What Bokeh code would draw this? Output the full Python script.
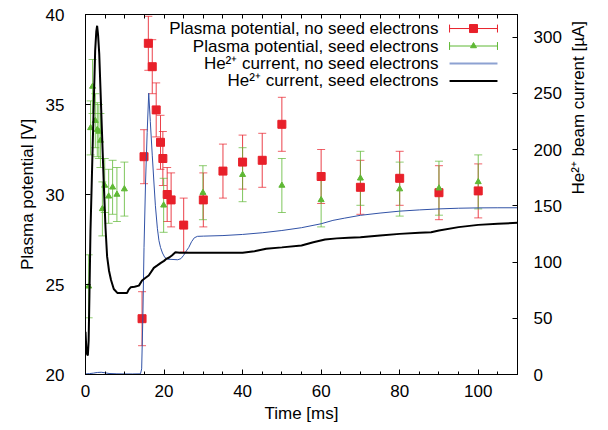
import math
from bokeh.plotting import figure
from bokeh.models import Range1d, LinearAxis, Whisker, TeeHead, ColumnDataSource, FixedTicker
from bokeh.embed import file_html
from bokeh.resources import INLINE
from bokeh.core.properties import value

# ---------------- data ----------------
red_t = [14.4, 14.9, 16.0, 17.0, 18.0, 19.1, 19.7, 20.8, 21.8, 25.0, 30.0, 35.0, 40.0, 45.0, 50.0, 60.0, 70.0, 80.0, 90.0, 100.0]
red_v = [23.1, 32.1, 38.4, 37.1, 34.7, 32.9, 32.0, 30.0, 29.7, 28.3, 29.7, 31.3, 31.8, 31.9, 33.9, 31.0, 30.4, 30.9, 30.1, 30.2]
red_err = [1.5] * 20

green_t = [0.8, 1.3, 1.8, 2.5, 3.0, 3.4, 3.8, 4.3, 4.9, 5.9, 6.9, 8.0, 9.9, 19.9, 29.9, 40.0, 50.0, 60.0, 70.0, 80.0, 90.0, 100.0]
green_v = [24.9, 33.7, 36.0, 34.1, 33.6, 33.5, 33.0, 29.2, 30.5, 29.9, 30.4, 30.0, 30.3, 29.4, 30.1, 31.1, 30.5, 29.7, 30.9, 30.3, 30.35, 30.7]
green_err = [1.75] + [1.5] * 21

blue_t = [0, 1, 2, 3, 4, 5, 6, 8, 10, 12, 14.0, 14.3, 14.6, 14.9, 15.3, 15.7, 16.1, 16.5, 17.0, 17.4, 17.8, 18.3, 18.7,
          19.1, 19.6, 20.2, 21.0, 23.5, 24.3, 25.0, 25.7, 26.3, 27.0, 27.7, 28.5, 30.0, 35.0, 40.0, 45.0, 50.0, 55.0,
          60.0, 63.0, 66.0, 70.0, 75.0, 80.0, 85.0, 90.0, 95.0, 100.0, 105.0, 110.0]
blue_i = [0.5, 0.8, 1.2, 1.8, 2.0, 1.5, 0.9, 0.6, 0.5, 0.5, 0.6, 5, 50, 113, 172, 215, 250, 225, 195, 172, 150, 130, 119,
          113, 108, 104, 102.5, 102, 103, 106, 110, 113, 118, 121.5, 122.8, 123, 123.5, 124.5, 126, 128, 130.5,
          134, 137, 139, 141.5, 143.5, 145.2, 146.3, 147.2, 147.8, 148.1, 148.2, 148.2]

black_t = [0, 0.2, 0.4, 0.6, 0.8, 1.0, 1.27, 1.6, 2.1, 2.46, 2.75, 2.96, 3.2, 3.5, 3.8, 4.2, 4.7, 5.1, 5.5, 6.0, 6.5,
           7.2, 8.1, 9.5, 10.6, 11.0, 11.5, 12.5, 13.6, 14.4, 15.3, 16.1, 17.4, 18.3, 19.1, 20.0, 20.6, 21.3, 22.0,
           22.9, 24.0, 30.0, 40.0, 43.0, 46.0, 50.0, 55.0, 58.0, 61.0, 64.0, 67.0, 70.0, 75.0, 80.0, 85.0, 88.0,
           90.0, 95.0, 100.0, 105.0, 110.0]
black_i = [38, 24, 18, 17, 30, 70, 128, 172, 240, 288, 305, 310, 302, 285, 255, 215, 165, 130, 105, 92, 84,
           76, 72.5, 72.5, 72.5, 75.5, 77.5, 78, 79, 83.6, 86, 88, 94.8, 97, 99, 101, 102.8, 104, 105.8,
           108.7, 108.3, 108.3, 108.3, 109.5, 111.7, 113, 114.7, 117.6, 120, 121, 121.5, 122, 123.5, 125, 126, 126.5,
           128, 131, 133, 134, 134.8]

x_ticks = [0, 20, 40, 60, 80, 100]
x_minor = [0, 5, 10, 15, 20, 25, 30, 35, 40, 45, 50, 55, 60, 65, 70, 75, 80, 85, 90, 95, 100, 105, 110]
y_ticks = [20, 25, 30, 35, 40]
y2_ticks = [0, 50, 100, 150, 200, 250, 300]

legend_labels = ["Plasma potential, no seed electrons", "Plasma potential, seed electrons",
                 "He\u00b2\u207a current, no seed electrons", "He\u00b2\u207a current, seed electrons"]
y2_label = "He\u00b2\u207a beam current [\u00b5A]"

# ---------------- style ----------------
FONT = "Liberation Sans"
FS = "17px"
RED = "#e8202a"
GREEN = "#5fb834"
BLUE = "#3152a6"

p = figure(frame_width=432, frame_height=360, output_backend="svg", toolbar_location=None,
           x_range=Range1d(0, 110), y_range=Range1d(20, 40),
           min_border_left=85, min_border_right=91, min_border_top=14, min_border_bottom=54,
           x_axis_label="Time [ms]", y_axis_label="Plasma potential [V]")
p.extra_y_ranges = {"cur": Range1d(0, 320)}
p.xgrid.visible = False
p.ygrid.visible = False
p.outline_line_color = "black"
p.outline_line_width = 1
p.background_fill_color = "white"
p.border_fill_color = "white"


def style(ax):
    ax.major_tick_in = 5
    ax.major_tick_out = 0
    ax.minor_tick_in = 3
    ax.minor_tick_out = 0
    ax.axis_line_color = "black"
    ax.major_tick_line_color = "black"
    ax.minor_tick_line_color = "black"
    ax.major_label_text_font = FONT
    ax.major_label_text_font_size = FS
    ax.major_label_text_color = "black"
    ax.axis_label_text_font = FONT
    ax.axis_label_text_font_size = FS
    ax.axis_label_text_font_style = "normal"
    ax.axis_label_text_color = "black"


xa = p.xaxis[0]
xa.ticker = FixedTicker(ticks=x_ticks, minor_ticks=x_minor)
style(xa)
xa.major_label_standoff = 10
xa.axis_label_standoff = 4

ya = p.yaxis[0]
ya.ticker = FixedTicker(ticks=y_ticks)
style(ya)
ya.major_label_standoff = 21
ya.axis_label_standoff = 6

# top axis: only tick marks (no labels)
top = LinearAxis(ticker=FixedTicker(ticks=[], minor_ticks=x_minor))
style(top)
top.minor_tick_in = 4
top.major_label_standoff = 0
p.add_layout(top, "above")

right = LinearAxis(y_range_name="cur", ticker=FixedTicker(ticks=y2_ticks), axis_label=y2_label)
style(right)
right.major_label_standoff = 16
right.axis_label_standoff = 14
if "axis_label_orientation" in right.properties():
    right.axis_label_orientation = math.pi / 2
p.add_layout(right, "right")

# ---------------- data marks ----------------
rsrc = ColumnDataSource(dict(t=red_t, v=red_v,
                             lo=[v - e for v, e in zip(red_v, red_err)],
                             hi=[v + e for v, e in zip(red_v, red_err)]))
gsrc = ColumnDataSource(dict(t=green_t, v=green_v,
                             lo=[v - e for v, e in zip(green_v, green_err)],
                             hi=[v + e for v, e in zip(green_v, green_err)]))

p.add_layout(Whisker(source=rsrc, base="t", lower="lo", upper="hi", dimension="height",
                     line_color=RED, line_alpha=0.85, line_width=1,
                     upper_head=TeeHead(size=8, line_color=RED, line_alpha=0.7),
                     lower_head=TeeHead(size=8, line_color=RED, line_alpha=0.7)))
p.scatter("t", "v", source=rsrc, marker="square", size=8, fill_color=RED, line_color=RED)

p.add_layout(Whisker(source=gsrc, base="t", lower="lo", upper="hi", dimension="height",
                     line_color=GREEN, line_alpha=0.8, line_width=1,
                     upper_head=TeeHead(size=8, line_color=GREEN, line_alpha=0.7),
                     lower_head=TeeHead(size=8, line_color=GREEN, line_alpha=0.7)))
p.scatter("t", "v", source=gsrc, marker="triangle", size=6, fill_color=GREEN, line_color=GREEN)

p.line(blue_t, blue_i, y_range_name="cur", line_color=BLUE, line_width=1)
p.line(black_t, black_i, y_range_name="cur", line_color="black", line_width=2)

# ---------------- legend (text right-aligned, sample on the right) ----------------
leg_y = [39.22, 38.25, 37.28, 36.31]
leg_tx = 89.9
s0, s1, sc = 92.7, 104.9, 98.8
cap = 0.22
p.text(x=[leg_tx] * 4, y=leg_y, text=legend_labels, text_align="right", text_baseline="middle",
       text_font=value(FONT), text_font_size=FS, text_color="black")
p.segment(x0=[s0], y0=[leg_y[0]], x1=[s1], y1=[leg_y[0]], line_color=RED, line_width=1)
p.segment(x0=[s0, s1], y0=[leg_y[0] - cap] * 2, x1=[s0, s1], y1=[leg_y[0] + cap] * 2, line_color=RED, line_width=1)
p.scatter(x=[sc], y=[leg_y[0]], marker="square", size=8, fill_color=RED, line_color=RED)
p.segment(x0=[s0], y0=[leg_y[1]], x1=[s1], y1=[leg_y[1]], line_color=GREEN, line_width=1)
p.segment(x0=[s0, s1], y0=[leg_y[1] - cap] * 2, x1=[s0, s1], y1=[leg_y[1] + cap] * 2, line_color=GREEN, line_width=1)
p.scatter(x=[sc], y=[leg_y[1]], marker="triangle", size=6, fill_color=GREEN, line_color=GREEN)
p.segment(x0=[s0], y0=[leg_y[2]], x1=[s1], y1=[leg_y[2]], line_color="#8da2d2", line_width=2)
p.segment(x0=[s0], y0=[leg_y[3]], x1=[s1], y1=[leg_y[3]], line_color="black", line_width=2)

open("out.html", "w").write(file_html(p, INLINE))
